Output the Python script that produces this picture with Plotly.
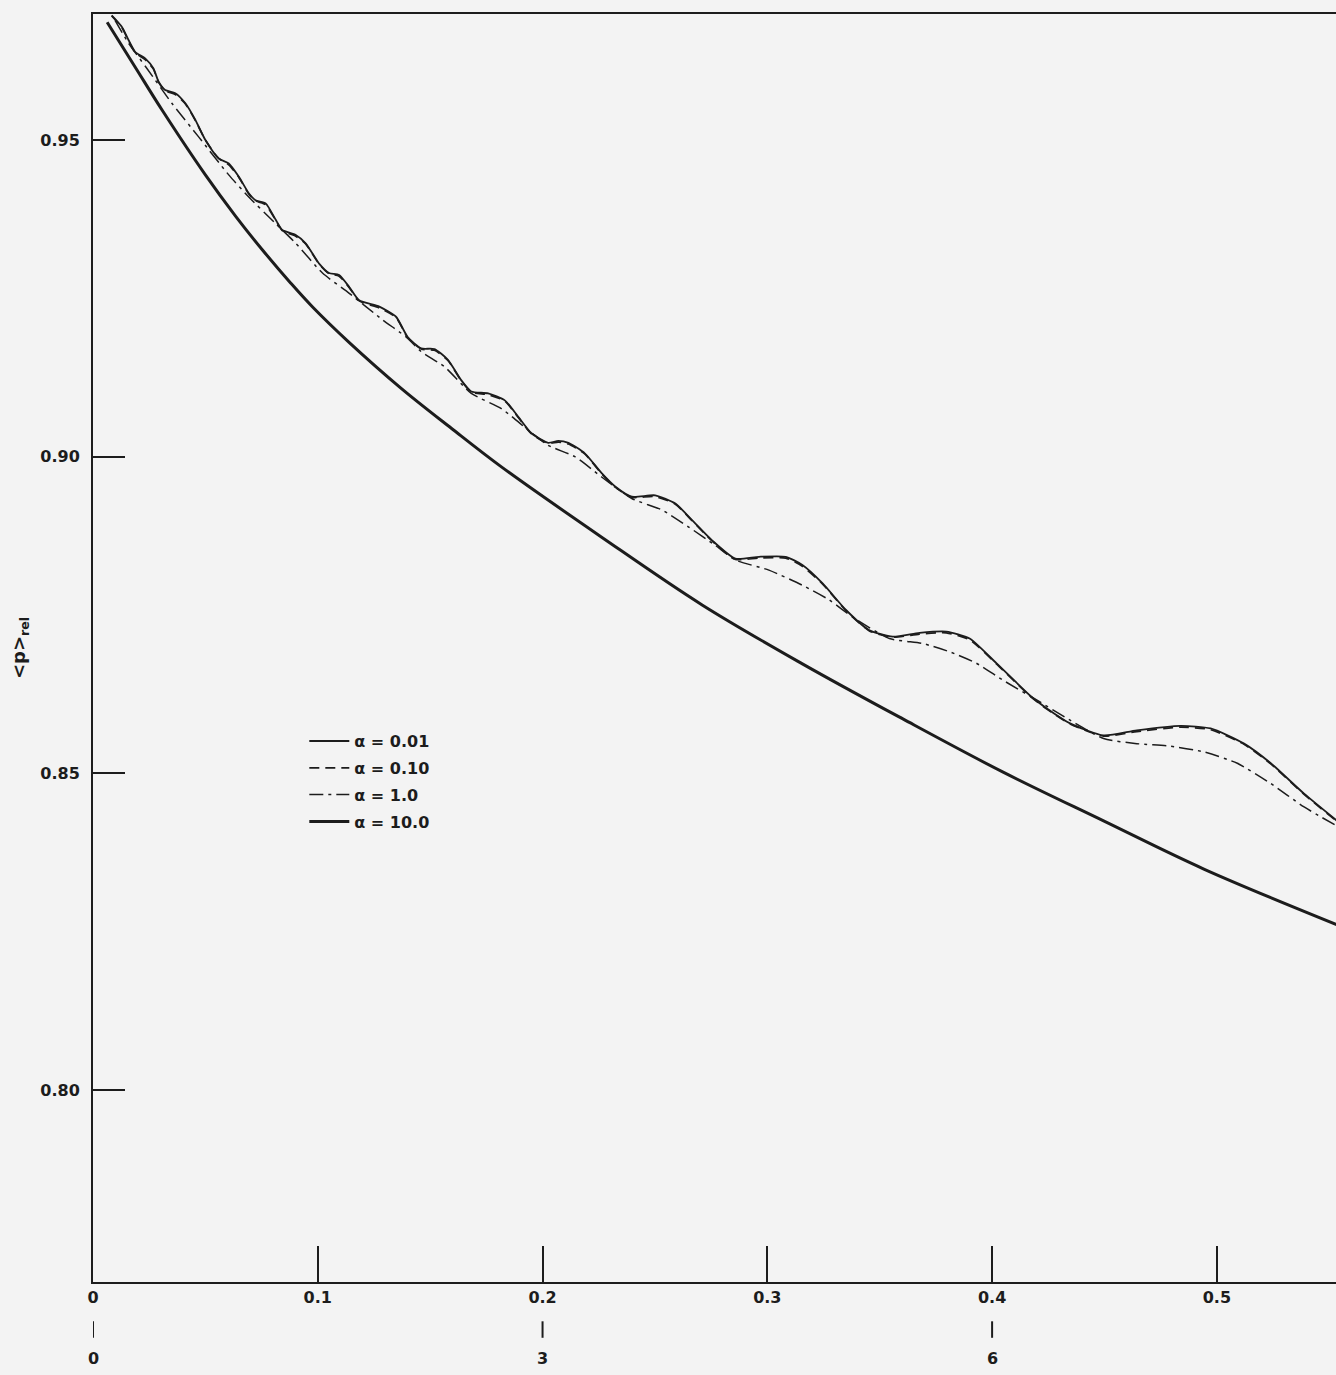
import plotly.graph_objects as go

# ---------------- data ----------------
x_a001 = [0.0083, 0.0128, 0.0158, 0.0188, 0.0232, 0.0269, 0.0292, 0.0321, 0.0366, 0.0411,
          0.0455, 0.0500, 0.0559, 0.0604, 0.0649, 0.0693, 0.0723, 0.0768, 0.0813, 0.0842,
          0.0902, 0.0946, 0.1006, 0.1050, 0.1095, 0.1140, 0.1184, 0.1274, 0.1348, 0.1400,
          0.1460, 0.1519, 0.1579, 0.1638, 0.1683, 0.1758, 0.1832, 0.1892, 0.1951, 0.2025,
          0.2070, 0.2115, 0.2189, 0.2263, 0.2323, 0.2397, 0.2501, 0.2591, 0.2665, 0.2754,
          0.2858, 0.2963, 0.3082, 0.3156, 0.3246, 0.3350, 0.3454, 0.3558, 0.3677, 0.3796,
          0.3900, 0.4019, 0.4175, 0.4242, 0.4347, 0.4496, 0.4644, 0.4838, 0.4972, 0.5121,
          0.5240, 0.5388, 0.5549]
y_a001 = [0.9697, 0.9679, 0.9658, 0.9639, 0.9629, 0.9613, 0.9592, 0.9579, 0.9574, 0.9558,
          0.9532, 0.9500, 0.9471, 0.9463, 0.9442, 0.9416, 0.9405, 0.9400, 0.9374, 0.9358,
          0.9350, 0.9337, 0.9305, 0.9290, 0.9287, 0.9268, 0.9247, 0.9237, 0.9221, 0.9189,
          0.9171, 0.9170, 0.9153, 0.9121, 0.9103, 0.9100, 0.9089, 0.9063, 0.9037, 0.9022,
          0.9025, 0.9022, 0.9005, 0.8974, 0.8953, 0.8937, 0.8939, 0.8926, 0.8900, 0.8868,
          0.8839, 0.8842, 0.8842, 0.8829, 0.8800, 0.8758, 0.8726, 0.8716, 0.8722, 0.8724,
          0.8713, 0.8674, 0.8621, 0.8603, 0.8579, 0.8560, 0.8568, 0.8575, 0.8571, 0.8547,
          0.8516, 0.8468, 0.8421]

x_a010 = [0.0083, 0.0128, 0.0158, 0.0188, 0.0232, 0.0269, 0.0292, 0.0321, 0.0366, 0.0411,
          0.0455, 0.0500, 0.0559, 0.0604, 0.0649, 0.0693, 0.0723, 0.0768, 0.0813, 0.0842,
          0.0902, 0.0946, 0.1006, 0.1050, 0.1095, 0.1140, 0.1184, 0.1274, 0.1348, 0.1400,
          0.1460, 0.1519, 0.1579, 0.1638, 0.1683, 0.1758, 0.1832, 0.1892, 0.1951, 0.2025,
          0.2070, 0.2115, 0.2189, 0.2263, 0.2323, 0.2397, 0.2501, 0.2591, 0.2665, 0.2754,
          0.2858, 0.2963, 0.3082, 0.3156, 0.3246, 0.3350, 0.3454, 0.3558, 0.3677, 0.3796,
          0.3900, 0.4019, 0.4175, 0.4242, 0.4347, 0.4496, 0.4644, 0.4838, 0.4972, 0.5121,
          0.5240, 0.5388, 0.5549]
y_a010 = [0.9696, 0.9678, 0.9657, 0.9638, 0.9627, 0.9612, 0.9591, 0.9578, 0.9572, 0.9557,
          0.9531, 0.9500, 0.9471, 0.9461, 0.9441, 0.9415, 0.9404, 0.9398, 0.9373, 0.9357,
          0.9348, 0.9336, 0.9304, 0.9289, 0.9285, 0.9267, 0.9246, 0.9235, 0.9220, 0.9188,
          0.9170, 0.9168, 0.9152, 0.9120, 0.9102, 0.9098, 0.9088, 0.9062, 0.9036, 0.9021,
          0.9023, 0.9020, 0.9004, 0.8973, 0.8952, 0.8936, 0.8937, 0.8925, 0.8899, 0.8867,
          0.8838, 0.8840, 0.8840, 0.8827, 0.8799, 0.8757, 0.8725, 0.8715, 0.8720, 0.8722,
          0.8711, 0.8673, 0.8620, 0.8602, 0.8578, 0.8559, 0.8566, 0.8573, 0.8569, 0.8546,
          0.8515, 0.8467, 0.8420]

x_a1 = [0.0098, 0.0158, 0.0240, 0.0351, 0.0470, 0.0604, 0.0693, 0.0813, 0.0902, 0.1021,
        0.1140, 0.1289, 0.1393, 0.1460, 0.1564, 0.1683, 0.1817, 0.1936, 0.2025, 0.2144,
        0.2263, 0.2397, 0.2531, 0.2650, 0.2769, 0.2858, 0.3007, 0.3156, 0.3275, 0.3379,
        0.3543, 0.3692, 0.3811, 0.3930, 0.4049, 0.4198, 0.4347, 0.4496, 0.4644, 0.4793,
        0.4942, 0.5091, 0.5240, 0.5388, 0.5549]
y_a1 = [0.9689, 0.9653, 0.9613, 0.9558, 0.9505, 0.9445, 0.9410, 0.9368, 0.9337, 0.9290,
        0.9258, 0.9216, 0.9189, 0.9166, 0.9142, 0.9100, 0.9076, 0.9042, 0.9018, 0.9000,
        0.8968, 0.8934, 0.8916, 0.8889, 0.8860, 0.8837, 0.8821, 0.8797, 0.8774, 0.8747,
        0.8713, 0.8705, 0.8692, 0.8674, 0.8647, 0.8616, 0.8584, 0.8555, 0.8547, 0.8543,
        0.8534, 0.8516, 0.8484, 0.8447, 0.8414]

x_a10 = [0.0063, 0.0188, 0.0308, 0.0500, 0.0634, 0.0755, 0.0880, 0.0978, 0.1138, 0.1371,
         0.1594, 0.1817, 0.2263, 0.2710, 0.3156, 0.3603, 0.4049, 0.4496, 0.4942, 0.5549]
y_a10 = [0.9686, 0.9615, 0.9547, 0.9445, 0.9380, 0.9326, 0.9274, 0.9236, 0.9181, 0.9108,
         0.9045, 0.8984, 0.8873, 0.8766, 0.8673, 0.8586, 0.8502, 0.8425, 0.8349, 0.8259]

x_tick_vals = [0, 0.1, 0.2, 0.3, 0.4, 0.5]
x_tick_text = ["0", "0.1", "0.2", "0.3", "0.4", "0.5"]
y_tick_vals = [0.80, 0.85, 0.90, 0.95]
y_tick_text = ["0.80", "0.85", "0.90", "0.95"]
x2_positions = [0, 0.2, 0.4]
x2_text = ["0", "3", "6"]

series_names = ["\u03b1 = 0.01", "\u03b1 = 0.10", "\u03b1 = 1.0", "\u03b1 = 10.0"]

# ---------------- figure ----------------
INK = "#1c1c1c"
BG = "#f3f3f3"
FONT = "DejaVu Sans"

fig = go.Figure()
fig.add_trace(go.Scatter(x=x_a001, y=y_a001, mode="lines", name=series_names[0],
                         line=dict(color=INK, width=1.8, shape="spline", smoothing=0.6),
                         legendgroup="g1"))
fig.add_trace(go.Scatter(x=x_a010, y=y_a010, mode="lines", name=series_names[1],
                         line=dict(color=INK, width=1.7, dash="10px,6px", shape="spline", smoothing=0.6),
                         legendgroup="g2"))
fig.add_trace(go.Scatter(x=x_a1, y=y_a1, mode="lines", name=series_names[2],
                         line=dict(color=INK, width=1.5, dash="14px,5px,3px,5px", shape="spline", smoothing=0.6),
                         legendgroup="g3"))
fig.add_trace(go.Scatter(x=x_a10, y=y_a10, mode="lines", name=series_names[3],
                         line=dict(color=INK, width=3, shape="spline", smoothing=1.0),
                         legendgroup="g4"))

annotations = []
shapes = []
for xv, t in zip(x2_positions, x2_text):
    shapes.append(dict(type="line", xref="x", yref="paper", x0=xv, x1=xv,
                       y0=-0.031, y1=-0.044, line=dict(color=INK, width=2)))
    annotations.append(dict(x=xv, y=-0.060, xref="x", yref="paper", text=t,
                            showarrow=False, font=dict(size=16, color=INK, family=FONT, weight="bold"),
                            xanchor="center", yanchor="middle"))

fig.update_layout(
    width=1336, height=1375,
    margin=dict(l=93, r=0, t=14, b=93),
    paper_bgcolor=BG, plot_bgcolor=BG,
    font=dict(family=FONT, size=16, color=INK, weight="bold"),
    showlegend=True,
    legend=dict(x=0.17, y=0.44, xanchor="left", yanchor="top",
                bgcolor="rgba(0,0,0,0)", borderwidth=0,
                font=dict(size=16, family=FONT, color=INK, weight="bold"),
                tracegroupgap=3, itemwidth=40),
    annotations=annotations,
    shapes=shapes,
)

fig.update_xaxes(range=[0, 0.553], showgrid=False, zeroline=False,
                 showline=True, linecolor=INK, linewidth=2, mirror=True,
                 ticks="inside", ticklen=36, tickwidth=1.8, tickcolor=INK,
                 tickvals=x_tick_vals, ticktext=x_tick_text,
                 tickfont=dict(size=16, family=FONT, color=INK, weight="bold"))
fig.update_yaxes(range=[0.7697, 0.9699], showgrid=False, zeroline=False,
                 showline=True, linecolor=INK, linewidth=2, mirror=False,
                 ticks="inside", ticklen=32, tickwidth=1.8, tickcolor=INK,
                 tickvals=y_tick_vals, ticktext=y_tick_text,
                 ticklabelstandoff=8,
                 tickfont=dict(size=16, family=FONT, color=INK, weight="bold"),
                 title=dict(text="&lt;p&gt;<sub>rel</sub>", standoff=10,
                            font=dict(size=18, family=FONT, color=INK, weight="bold")))

fig.write_html("out.html")
